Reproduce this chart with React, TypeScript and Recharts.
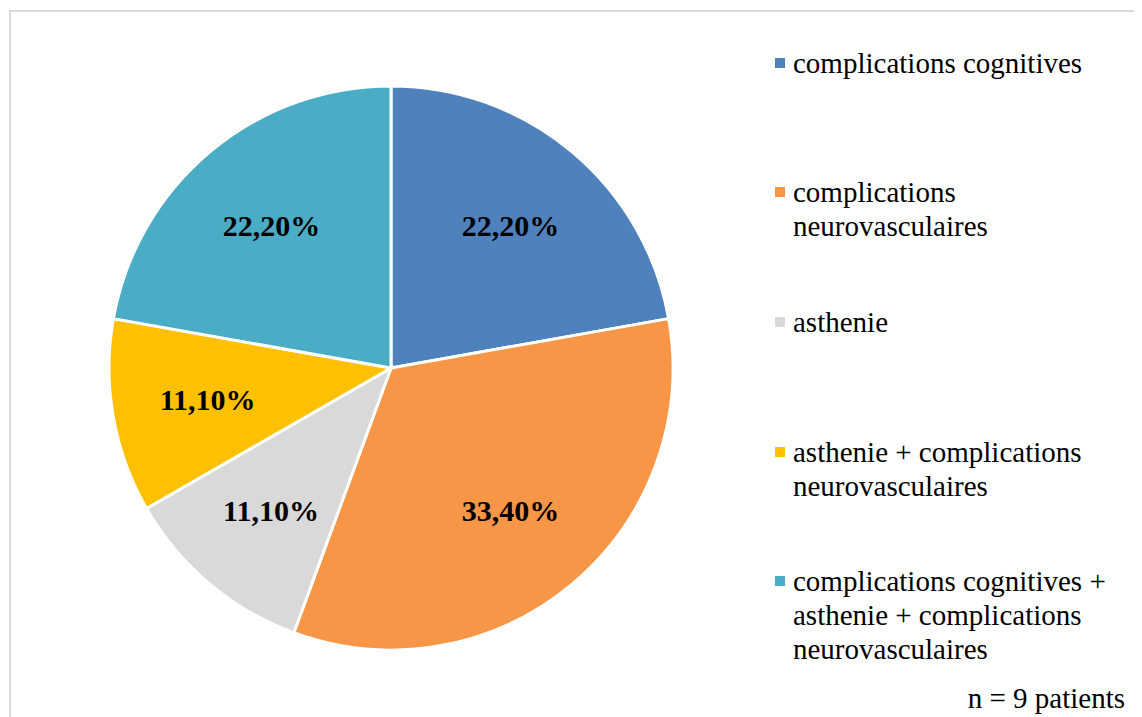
import React from "react";
import { PieChart, Pie, Cell, Legend } from "recharts";

const categories = [
  "complications cognitives",
  "complications neurovasculaires",
  "asthenie",
  "asthenie + complications neurovasculaires",
  "complications cognitives + asthenie + complications neurovasculaires",
];
const percentages = [22.2, 33.4, 11.1, 11.1, 22.2];
const colors = ["#4F81BD", "#F79646", "#D9D9D9", "#FFC000", "#4BACC6"];
const footnote = "n = 9 patients";

const data = categories.map((name, i) => ({ name, value: percentages[i] }));

const FONT = '"Liberation Serif", "Times New Roman", serif';
const RAD = Math.PI / 180;

const fmt = (v: number) => v.toFixed(2).replace(".", ",") + "%";

const renderLabel = (props: any) => {
  const { cx, cy, midAngle, outerRadius, value } = props;
  const r = outerRadius * 0.66;
  const x = cx + r * Math.cos(-midAngle * RAD);
  const y = cy + r * Math.sin(-midAngle * RAD);
  return (
    <text
      x={x}
      y={y}
      textAnchor="middle"
      dominantBaseline="central"
      fontFamily={FONT}
      fontWeight="bold"
      fontSize={30}
      fill="#000"
    >
      {fmt(value)}
    </text>
  );
};

const gaps = [0, 95, 62, 96, 61];

const renderLegend = (props: any) => {
  const payload = [...(props.payload || [])].sort(
    (a: any, b: any) => categories.indexOf(a.value) - categories.indexOf(b.value)
  );
  return (
    <div style={{ fontFamily: FONT, fontSize: 29, lineHeight: "34px", color: "#000" }}>
      {payload.map((entry: any, i: number) => (
        <div
          key={i}
          style={{ display: "flex", alignItems: "flex-start", marginTop: gaps[i] }}
        >
          <div
            style={{
              width: 10,
              height: 10,
              background: entry.color,
              marginTop: 12,
              marginRight: 8,
              flex: "0 0 auto",
            }}
          />
          <div style={{ width: 340 }}>{entry.value}</div>
        </div>
      ))}
    </div>
  );
};

export default function App() {
  return (
    <div style={{ position: "relative", width: 1134, height: 709, background: "#fff" }}>
      <div
        style={{
          position: "absolute",
          left: 1,
          top: 2,
          right: 0,
          bottom: 0,
          borderLeft: "2px solid #d9d9d9",
          borderTop: "2px solid #d9d9d9",
        }}
      />
      <PieChart width={1134} height={709} margin={{ top: 0, right: 0, bottom: 0, left: 0 }}>
        <Pie
          data={data}
          dataKey="value"
          nameKey="name"
          cx={383}
          cy={360}
          outerRadius={282}
          startAngle={90}
          endAngle={-270}
          stroke="#fff"
          strokeWidth={3}
          label={renderLabel}
          labelLine={false}
          isAnimationActive={false}
        >
          {data.map((d, i) => (
            <Cell key={d.name} fill={colors[i]} />
          ))}
        </Pie>
        <Legend
          layout="vertical"
          align="right"
          verticalAlign="top"
          content={renderLegend}
          wrapperStyle={{ top: 38, left: 767, width: 370, right: "auto" }}
        />
      </PieChart>
      <div
        style={{
          position: "absolute",
          right: 17,
          top: 673,
          fontFamily: FONT,
          fontSize: 29,
          lineHeight: "34px",
          color: "#000",
        }}
      >
        {footnote}
      </div>
    </div>
  );
}
